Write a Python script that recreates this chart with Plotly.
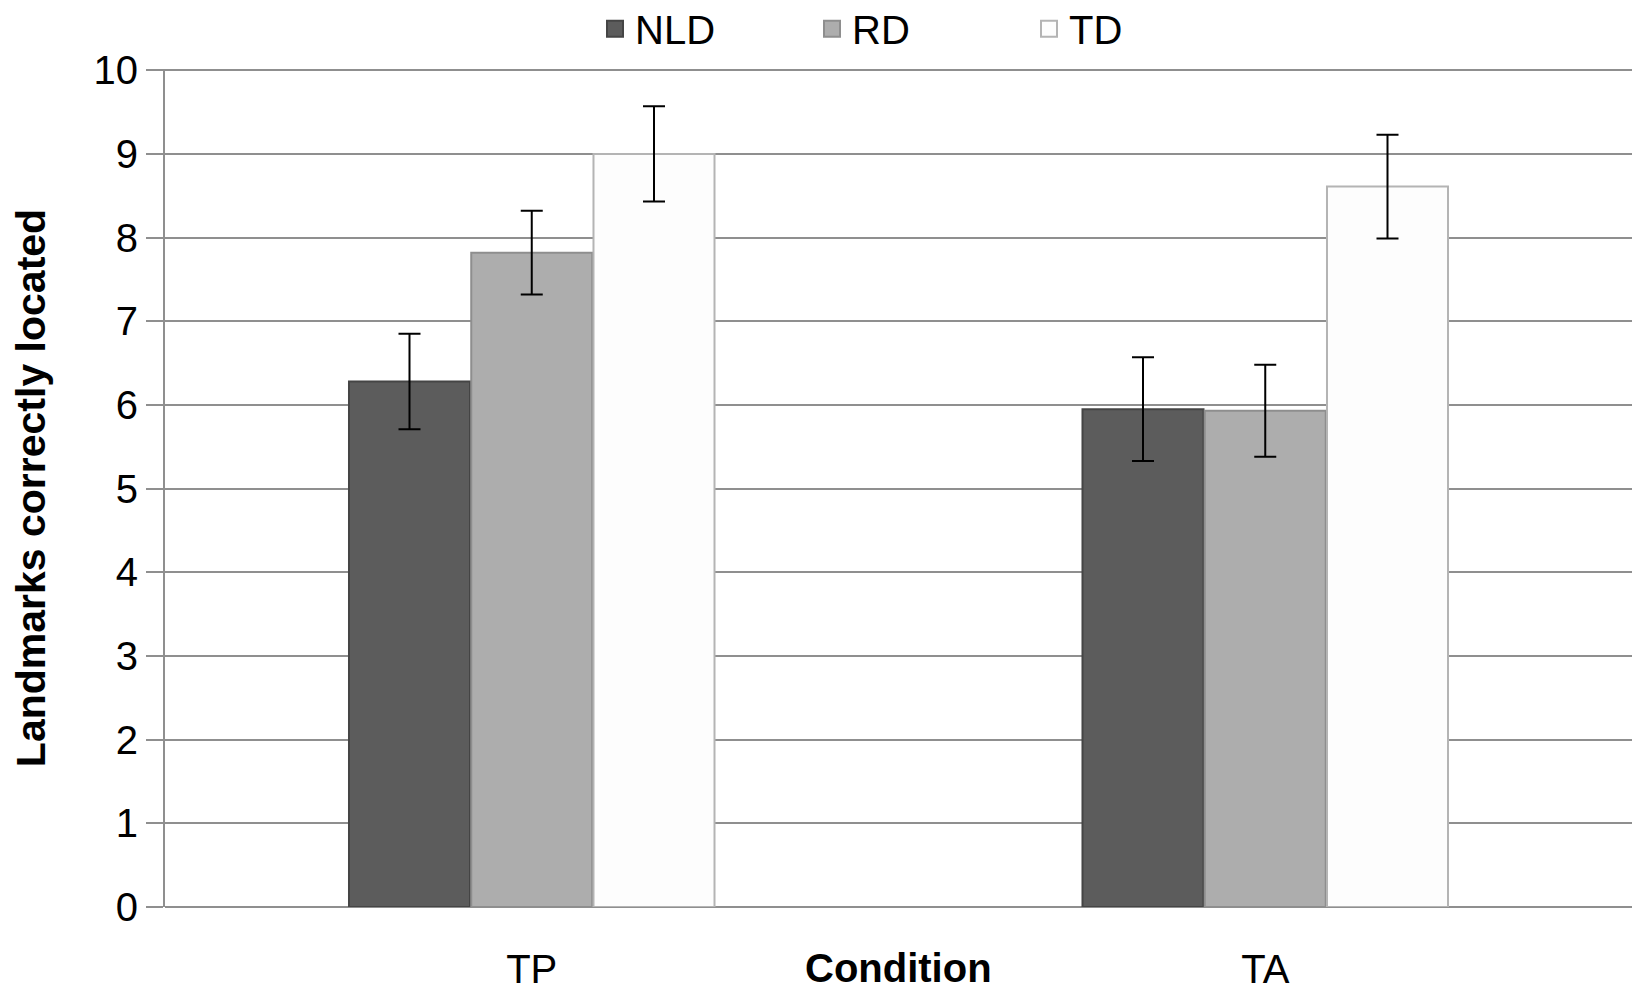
import plotly.graph_objects as go

conditions = ["TP", "TA"]
groups = ["NLD", "RD", "TD"]
means = {
    "NLD": [6.28, 5.95],
    "RD": [7.82, 5.93],
    "TD": [9.0, 8.61],
}
errors = {
    "NLD": [0.57, 0.62],
    "RD": [0.5, 0.55],
    "TD": [0.57, 0.62],
}
y_ticks = list(range(0, 11))

fills = {"NLD": "#5c5c5c", "RD": "#adadad", "TD": "#fdfdfd"}
edges = {"NLD": "#454545", "RD": "#8e8e8e", "TD": "#b4b4b4"}

font_main = "Liberation Sans, Arial, sans-serif"
grid_col = "#8f8f8f"

fig = go.Figure()
for g in groups:
    fig.add_trace(
        go.Bar(
            x=conditions,
            y=means[g],
            name=g,
            showlegend=False,
            marker=dict(color=fills[g], line=dict(color=edges[g], width=2)),
            error_y=dict(
                type="data",
                array=errors[g],
                color="black",
                thickness=2,
                width=11,
            ),
        )
    )
    # legend-only entry so the key square can be drawn bigger
    fig.add_trace(
        go.Scatter(
            x=[None],
            y=[None],
            mode="markers",
            name=g,
            marker=dict(
                symbol="square",
                size=22,
                color=fills[g],
                line=dict(color=edges[g], width=2),
            ),
        )
    )

# axis title sits on the same row as the category labels
fig.add_annotation(
    text="<b>Condition</b>",
    x=0.5,
    xref="paper",
    y=-0.073,
    yref="paper",
    yanchor="middle",
    showarrow=False,
    font=dict(size=40, color="black"),
)

# the page adds an 8px body margin, so margins are shifted to compensate
fig.update_layout(
    width=1642,
    height=996,
    barmode="group",
    bargap=0.5,
    bargroupgap=0.01,
    plot_bgcolor="white",
    paper_bgcolor="white",
    margin=dict(l=157, r=18, t=61, b=97, autoexpand=False),
    font=dict(family=font_main, size=40, color="black"),
    legend=dict(
        orientation="h",
        x=0.515,
        xanchor="center",
        y=1.048,
        yanchor="middle",
        font=dict(size=40),
        entrywidth=172,
        entrywidthmode="pixels",
        itemsizing="trace",
        traceorder="normal",
    ),
    xaxis=dict(
        showgrid=False,
        showline=False,
        ticks="",
        tickfont=dict(size=40),
        ticklabelstandoff=35,
    ),
    yaxis=dict(
        range=[0, 10.015],
        tickvals=y_ticks,
        showgrid=True,
        gridcolor=grid_col,
        gridwidth=2,
        showline=True,
        linecolor=grid_col,
        linewidth=2,
        ticks="outside",
        ticklen=17,
        tickwidth=2,
        tickcolor=grid_col,
        zeroline=True,
        zerolinecolor=grid_col,
        zerolinewidth=2,
        tickfont=dict(size=40),
        title=dict(
            text="<b>Landmarks correctly located</b>",
            font=dict(size=41),
            standoff=38,
        ),
    ),
)

fig.write_html("out.html")
